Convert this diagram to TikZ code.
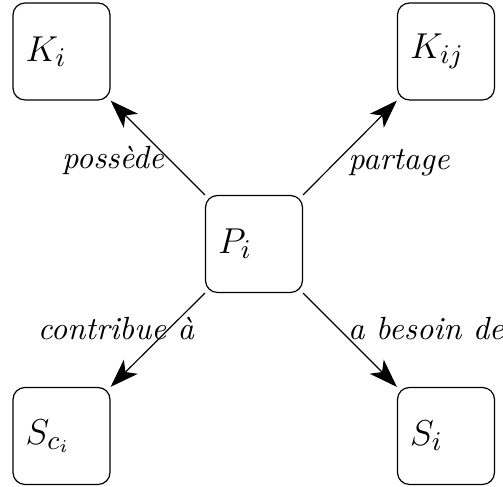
\documentclass[tikz,border=0pt]{standalone}
\usetikzlibrary{arrows.meta}
\begin{document}
\begin{tikzpicture}[x=0.33333pt, y=-0.33333pt,
  box/.style={draw, rounded corners=4pt, inner xsep=4.2pt, inner ysep=0pt,
    text width=23.93pt, align=left, minimum height=32.33pt, font=\fontsize{13}{15}\selectfont},
  lbl/.style={font=\fontsize{10.7}{13}\selectfont\itshape, inner sep=0pt, anchor=base},
  arr/.style={-{Stealth[length=9.5pt, width=6.6pt, inset=2.5pt]}}]
\useasboundingbox (0,0) rectangle (503,487);
\node[box] (Ki)  at (61.5,51.5) {$K_i$};
\node[box] (Kij) at (446,51.5) {$K_{ij}$};
\node[box] (P)   at (254,244) {$P_i$};
\node[box] (Sci) at (61.5,436) {$S_{c_i}$};
\node[box] (Si)  at (446,436) {$S_i$};
\draw[arr] (P.north west) -- (Ki.south east);
\draw[arr] (P.north east) -- (Kij.south west);
\draw[arr] (P.south west) -- (Sci.north east);
\draw[arr] (P.south east) -- (Si.north west);
\node[lbl] (l1) at (113,169) {possède};
\node[lbl] (l2) at (399,170) {partage};
\node[lbl] (l3) at (116,340) {contribue à};
\node[lbl] (l4) at (426,340) {a besoin de};
\end{tikzpicture}
\end{document}
